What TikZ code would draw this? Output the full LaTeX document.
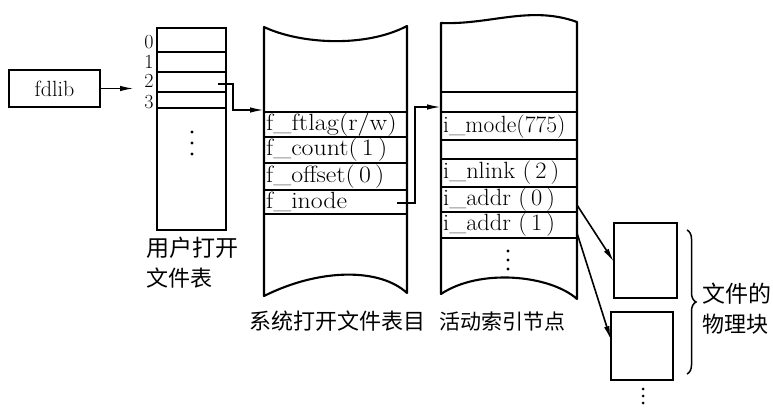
\documentclass[tikz,border=0pt]{standalone}
\usepackage{fontspec}
\newfontfamily\cjk{Noto Sans CJK SC}
\usetikzlibrary{arrows.meta,decorations.pathreplacing}
\newcommand\widetxt[2]{\scalebox{#1}[1]{#2}}
\begin{document}
\begin{tikzpicture}[x=1pt,y=-1pt,
  frame/.style={draw,line width=2.1pt,inner sep=0pt},
  tablebd/.style={line width=2.1pt,line join=round},
  rowline/.style={line width=1.9pt},
  fld/.style={anchor=west,inner sep=0pt,font=\fontsize{23.5}{26}\selectfont},
  digit/.style={inner sep=0pt,font=\fontsize{20}{22}\selectfont},
  dotmark/.style={fill=black},
  cjklbl/.style={inner sep=0pt,font=\cjk\fontsize{22}{30}\selectfont},
  conn/.style={line width=1.6pt,-{Latex[length=14pt,width=5.5pt]}},
  bracedeco/.style={line width=1.5pt,decorate,decoration={brace,amplitude=9pt}},
]
\useasboundingbox (0,0) rectangle (773,409);

% fdlib
\node[frame, minimum width=91pt, minimum height=37pt, font=\fontsize{22}{26}\selectfont] (fd) at (54.5,88.5) {fdlib};

% user open file table
\node[frame, minimum width=69pt, minimum height=202pt] (ut) at (191.5,129) {};
\foreach \y in {52,72,92,108} \draw[rowline] (157,\y) -- (226,\y);
\node[digit] (d0) at (149,42) {0};
\node[digit] (d1) at (149,62) {1};
\node[digit] (d2) at (149,81) {2};
\node[digit] (d3) at (149,102) {3};
\foreach \y in {132,143,154} \fill[dotmark] (192,\y) circle (1.7pt);
\node[cjklbl, align=left, anchor=north west] (ulab) at (146,237) {\fontsize{23}{30}\selectfont 用户打开\\文件表};

% system open file table
\draw[tablebd] (264,27) .. controls (300,44) and (365,48) .. (407,26) -- (407,293)
  .. controls (380,268) and (320,268) .. (264,296) -- cycle;
\foreach \y in {112,137,163,190,214} \draw[rowline] (264,\y) -- (407,\y);
\node[fld] (ff) at (266,125) {\widetxt{1.12}{f\_ftlag(r/w)}};
\node[fld] (fc) at (266,150) {\widetxt{1.1}{f\_count(\,1\,)}};
\node[fld] (fo) at (266,176.5) {\widetxt{1.1}{f\_offset(\,0\,)}};
\node[fld] (fi) at (266,202) {\widetxt{1.1}{f\_inode}};
\node[cjklbl, anchor=west] (slab) at (249,321) {系统打开文件表目};

% active inode
\draw[tablebd] (441,23) .. controls (490,25) and (530,5) .. (577,22) -- (577,299)
  .. controls (550,275) and (480,268) .. (441,294) -- cycle;
\foreach \y in {92,112,140,159,187,212,238} \draw[rowline] (441,\y) -- (577,\y);
\node[fld] (im) at (443,127) {\widetxt{1.0}{i\_mode(775)}};
\node[fld] (il) at (443,173) {\widetxt{1.04}{i\_nlink (\,2\,)}};
\node[fld] (ia0) at (443,199.5) {\widetxt{1.04}{i\_addr (\,0\,)}};
\node[fld] (ia1) at (443,225) {\widetxt{1.04}{i\_addr (\,1\,)}};
\foreach \y in {251,260,269} \fill[dotmark] (508,\y) circle (1.6pt);
\node[cjklbl, anchor=west] (ilab) at (439,322) {\fontsize{21}{26}\selectfont 活动索引节点};

% physical blocks
\node[frame, minimum width=63pt, minimum height=75pt] (b1) at (645.5,260.5) {};
\node[frame, minimum width=62pt, minimum height=68pt] (b2) at (642,346) {};
\foreach \y in {389,396,403} \fill[dotmark] (643,\y) circle (1.5pt);
\coordinate (brtop) at (687,230);
\coordinate (brbot) at (687,374);
\draw[bracedeco] (brtop) -- (brbot);
\node[cjklbl, align=left, anchor=west] (blab) at (702,309) {\fontsize{23}{24}\selectfont 文件的\\物理块};

% connectors
\coordinate (fdtip) at (134,88.5);
\draw[conn] (fd.east) -- (fdtip);
\coordinate (u2) at (218,84);
\coordinate (sf) at (264,110);
\draw[conn] (u2) -- (233,84) |- (sf);
\coordinate (fin) at (397,203);
\coordinate (itop) at (441,107);
\draw[conn] (fin) -- (415,203) |- (itop);
\coordinate (a0) at (577,205);
\coordinate (b1in) at (614,262);
\draw[conn] (a0) -- (b1in);
\coordinate (a1) at (577,233);
\coordinate (b2in) at (611,340);
\draw[conn] (a1) -- (b2in);
\end{tikzpicture}
\end{document}
